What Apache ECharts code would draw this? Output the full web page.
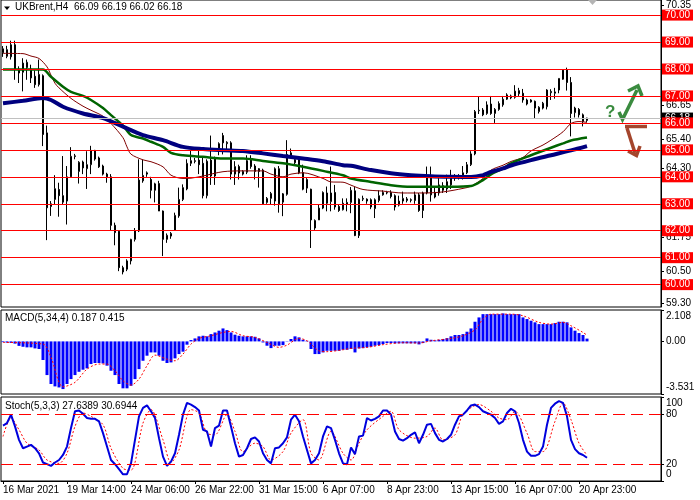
<!DOCTYPE html>
<html><head><meta charset="utf-8">
<script src="https://cdn.jsdelivr.net/npm/echarts@6/dist/echarts.min.js"></script>
<style>html,body{margin:0;padding:0;background:#fff}#c{width:700px;height:500px}</style>
</head><body><div id="c"></div>
<script>
// ---- data ----
const tickLabels = ['16 Mar 2021','19 Mar 14:00','24 Mar 06:00','26 Mar 22:00','31 Mar 15:00','6 Apr 07:00','8 Apr 23:00','13 Apr 15:00','16 Apr 07:00','20 Apr 23:00'];
const opens = [68.6,68.47,68.45,68.9,68.0,67.88,68.05,68.0,67.73,67.42,
67.75,65.63,62.9,63.16,63.53,63.3,63.1,64.0,64.75,64.2,
64.55,64.3,64.45,64.98,64.7,64.4,64.1,64.0,62.2,61.98,
60.63,60.57,60.88,61.68,61.99,63.85,64.1,63.9,63.5,63.75,
62.73,61.68,61.8,62.02,62.55,63.16,63.55,64.5,64.57,64.62,
64.5,63.3,64.62,64.03,65.0,65.53,65.23,65.26,64.1,64.38,
64.2,64.17,64.67,64.4,64.3,64.25,63.05,63.2,63.1,64.3,
63.06,63.35,64.77,64.52,64.64,64.16,63.58,63.54,62.1,62.4,
62.84,63.4,63.08,63.42,62.9,62.78,62.98,63.05,63.48,61.82,
63.17,63.17,63.15,62.82,63.12,63.33,63.4,63.42,63.3,62.95,
63.1,63.12,63.15,63.12,63.33,62.75,63.4,63.95,63.42,63.4,
63.67,63.55,63.7,63.95,64.0,64.0,64.15,64.45,64.85,66.45,
66.48,66.35,66.7,66.35,66.5,66.67,66.88,67.0,66.95,67.08,
67.1,66.85,66.85,66.8,66.42,66.55,66.6,67.12,67.1,67.22,
67.62,67.96,67.5,66.38,66.5,66.3,66.09];
const closes = [68.75,68.72,68.9,68.0,67.85,68.22,68.25,67.67,67.42,67.8,
65.57,62.85,63.0,63.56,63.3,63.06,64.0,64.76,64.78,64.54,
64.33,64.45,64.98,64.66,64.37,64.1,64.0,62.2,61.93,60.63,
60.47,60.88,61.68,61.99,63.88,64.05,64.15,63.5,63.74,62.73,
61.68,61.83,61.9,62.57,63.16,63.6,64.5,64.6,64.6,64.45,
63.3,64.58,64.03,64.67,65.23,65.26,65.28,64.1,64.38,64.14,
64.1,64.6,64.38,64.2,64.2,63.0,63.2,63.38,64.3,63.0,
63.37,64.83,64.89,64.64,64.15,63.54,63.9,62.4,62.38,62.84,
63.42,63.02,63.4,62.88,62.75,63.02,63.05,63.5,61.82,63.17,
63.2,63.1,62.88,63.15,63.3,63.42,63.42,63.27,62.88,63.1,
63.2,63.18,63.13,63.33,62.75,63.4,64.0,63.33,63.25,63.7,
63.5,63.82,63.95,64.0,64.02,64.15,64.45,64.85,66.42,66.47,
66.3,66.67,66.35,66.5,66.72,66.88,67.04,66.93,67.18,67.2,
66.85,66.7,66.78,66.55,66.58,66.73,67.22,67.17,67.15,67.65,
67.96,67.5,66.35,66.55,66.3,66.05,66.18];
const lows = [68.45,68.4,68.35,67.6,67.48,67.17,67.6,67.48,67.3,67.35,
65.14,61.65,62.55,62.96,62.52,62.97,62.23,63.98,64.65,63.75,
64.1,63.55,64.1,64.6,64.33,64.05,63.78,62.0,61.46,60.5,
60.38,60.5,60.75,61.6,61.95,63.78,64.0,63.2,63.05,62.73,
61.06,61.55,61.7,62.0,62.48,63.1,63.5,64.4,64.5,64.1,
63.2,63.2,63.7,63.7,64.8,64.83,65.0,63.9,63.7,63.9,
64.05,64.1,64.3,63.9,63.6,62.97,63.0,62.97,62.93,62.67,
62.54,63.3,64.7,64.45,64.1,63.5,63.4,61.36,62.03,62.4,
62.8,62.72,62.72,62.78,62.7,62.75,62.72,62.65,61.8,61.73,
63.1,63.0,62.8,62.47,63.05,63.3,63.35,63.2,62.75,62.9,
63.0,63.05,63.05,63.0,62.7,62.47,63.35,63.08,63.2,63.3,
63.4,63.4,63.55,63.85,63.9,63.9,64.1,64.4,64.8,66.33,
66.25,66.3,66.3,66.0,66.45,66.6,66.85,66.88,66.9,67.0,
66.75,66.65,66.75,66.17,66.35,66.5,66.5,66.85,66.9,67.1,
67.6,67.2,65.5,66.2,66.2,65.87,66.02];
const highs = [68.85,68.86,69.05,69.05,68.1,68.4,68.35,68.16,67.95,68.35,
67.8,65.9,63.1,64.06,63.78,64.77,64.4,65.1,64.85,64.58,
64.6,64.95,65.15,65.0,64.75,64.45,64.15,64.1,62.3,62.0,
60.7,60.94,61.7,62.1,64.65,64.64,64.2,64.0,63.78,63.85,
62.75,61.9,61.95,62.67,63.6,63.72,64.65,65.0,64.7,65.0,
64.75,64.65,65.53,64.75,65.28,65.63,65.32,65.32,64.58,64.45,
64.25,64.8,64.8,64.47,64.32,64.3,63.25,63.44,64.35,64.4,
63.4,65.36,65.05,64.7,64.7,64.45,63.95,63.56,62.42,62.96,
63.46,63.64,64.38,63.7,62.96,63.2,63.2,63.62,63.62,63.2,
63.3,63.2,63.2,63.2,63.5,63.5,63.48,63.5,63.35,63.3,
63.45,63.25,63.2,63.45,63.4,63.45,64.38,64.38,63.65,63.95,
63.8,64.08,64.26,64.1,64.1,64.4,64.55,64.95,66.48,66.98,
66.55,66.8,67.0,66.55,66.8,67.0,67.1,67.05,67.4,67.3,
67.26,66.9,66.88,66.83,66.62,66.78,67.25,67.25,67.3,67.65,
68.0,68.05,67.7,66.6,66.55,66.35,66.19];
// moving averages read at sample bars: [bar index, value]
const maFast = [[0,68.58],[5,68.57],[7,68.48],[9,68.39],[11,68.08],[12,67.77],[13,67.47],[14,67.3],[17,66.91],[20,66.62],[22,66.47],[25,66.25],[27,65.98],[30,65.45],[31,65.11],[32,64.84],[35,64.63],[37,64.56],[40,64.37],[42,64.06],[45,63.94],[47,63.95],[50,64.03],[55,64.19],[60,64.22],[65,64.22],[67,64.1],[70,64.0],[72,64.1],[75,64.15],[80,63.94],[82,63.81],[85,63.8],[87,63.69],[90,63.53],[95,63.47],[100,63.4],[105,63.4],[110,63.44],[115,63.57],[117,63.65],[120,63.94],[122,64.25],[125,64.43],[127,64.57],[130,64.72],[132,64.96],[135,65.18],[137,65.36],[140,65.67],[142,65.98],[144,66.05],[146,66.02]];
const maMid = [[0,67.98],[5,67.98],[10,67.98],[12,67.71],[15,67.34],[17,67.15],[20,67.0],[22,66.85],[25,66.55],[27,66.29],[30,65.9],[32,65.55],[35,65.42],[37,65.3],[40,65.11],[42,64.89],[45,64.8],[50,64.74],[55,64.68],[60,64.68],[65,64.59],[70,64.5],[75,64.37],[80,64.22],[85,64.06],[87,63.94],[92,63.81],[97,63.69],[102,63.63],[107,63.63],[112,63.63],[117,63.66],[120,63.88],[122,64.09],[125,64.31],[127,64.5],[132,64.8],[137,65.08],[140,65.24],[142,65.35],[146,65.46]];
const maSlow = [[0,66.73],[5,66.82],[10,66.92],[12,66.85],[15,66.6],[20,66.35],[25,66.18],[30,65.86],[35,65.55],[40,65.36],[45,65.11],[50,65.03],[55,64.99],[60,64.96],[65,64.87],[70,64.77],[75,64.68],[80,64.58],[85,64.43],[87,64.41],[92,64.25],[97,64.13],[102,64.06],[107,64.02],[112,64.0],[117,63.99],[120,64.06],[122,64.18],[125,64.31],[127,64.42],[132,64.62],[137,64.8],[142,64.98],[146,65.14]];
const levels = [60,61,62,63,64,65,66,67,68,69,70];
const bidPrice = 66.18;
const priceTicks = [59.30,60.50,61.75,64.30,65.40,66.65,67.90,70.35];
const macdHist = [-0.05,-0.08,-0.1,-0.15,-0.3,-0.36,-0.4,-0.4,-0.47,-0.51,
-1.25,-2.26,-2.86,-3.02,-3.09,-3.2,-2.86,-2.53,-2.26,-2.04,
-1.9,-1.81,-1.52,-1.45,-1.45,-1.48,-1.63,-1.97,-2.26,-2.86,
-3.15,-3.15,-2.98,-2.53,-1.86,-1.3,-0.96,-0.74,-0.74,-0.96,
-1.3,-1.45,-1.41,-1.14,-0.85,-0.69,-0.22,0.09,0.2,0.34,
0.38,0.34,0.49,0.6,0.72,0.87,0.76,0.6,0.45,0.38,
0.34,0.34,0.34,0.31,0.2,-0.07,-0.29,-0.45,-0.29,-0.29,
-0.25,-0.02,0.16,0.34,0.27,0.11,0.04,-0.51,-0.85,-0.85,
-0.74,-0.63,-0.63,-0.63,-0.63,-0.56,-0.56,-0.51,-0.74,-0.47,
-0.45,-0.4,-0.36,-0.29,-0.25,-0.18,-0.11,-0.11,-0.13,-0.13,
-0.13,-0.13,-0.13,-0.13,-0.2,-0.11,0.2,0.11,0.07,0.11,
0.16,0.22,0.34,0.43,0.43,0.49,0.65,0.87,1.32,1.61,
1.83,1.83,1.83,1.83,1.83,1.88,1.83,1.83,1.83,1.83,
1.61,1.5,1.39,1.28,1.16,1.16,1.16,1.16,1.23,1.32,
1.32,1.28,0.94,0.72,0.56,0.43,0.187];
const macdSignal = [[0,-0.07],[10,-0.18],[12,-1.07],[15,-3.05],[18,-2.75],[21,-1.86],[24,-1.52],[26,-1.52],[28,-1.97],[30,-2.64],[32,-2.93],[34,-2.53],[36,-1.63],[38,-0.92],[41,-1.19],[43,-1.3],[45,-0.85],[47,-0.18],[49,0.2],[52,0.38],[55,0.6],[57,0.67],[60,0.38],[63,0.27],[66,-0.07],[69,-0.4],[71,-0.25],[74,0.2],[76,0.04],[79,-0.63],[81,-0.69],[85,-0.56],[87,-0.47],[91,-0.4],[95,-0.22],[100,-0.09],[104,-0.11],[107,0.04],[112,0.2],[115,0.38],[118,0.78],[120,1.5],[122,1.83],[127,1.83],[130,1.72],[134,1.28],[137,1.16],[140,1.28],[142,1.05],[145,0.6],[146,0.415]];
const macdTicks = [-3.531,0,2.108];
const stochMain = [66,69,79,65,49,39,41,43,39,33,
22,20,18,22,25,31,41,63,83,84,
80,75,74,74,71,57,41,25,20,14,
8,8,21,49,77,87,90,83,75,51,
29,18,23,33,55,79,93,91,88,84,
61,59,41,63,66,84,84,65,45,29,
31,39,50,52,47,33,25,21,39,40,
45,52,73,79,71,53,37,21,25,33,
53,65,63,49,33,21,20,40,32,53,
54,75,72,74,77,84,84,79,59,50,
48,51,55,58,45,55,67,68,57,49,
47,50,55,67,77,79,84,90,91,88,
83,81,79,75,68,71,81,86,83,69,
49,35,30,30,32,41,67,87,92,95,
93,77,49,38,33,31,27.64];
const stochSignal = [[0,53],[2,75],[4,61],[6,45],[9,37],[11,25],[14,21],[16,33],[18,65],[20,81],[22,77],[25,67],[27,39],[30,15],[32,13],[35,69],[37,85],[40,49],[42,22],[44,37],[47,85],[49,81],[51,57],[53,55],[56,79],[58,59],[60,35],[63,45],[65,41],[67,25],[70,35],[72,57],[75,73],[77,33],[79,25],[82,59],[85,33],[87,25],[89,45],[91,61],[95,77],[97,83],[99,61],[103,51],[106,53],[108,63],[110,49],[113,55],[115,79],[119,91],[122,83],[124,75],[126,73],[128,83],[131,57],[133,35],[135,35],[138,71],[140,93],[142,73],[144,45],[146,30.69]];
const stochLevels = [20,80];
const stochTicks = [0,20,80,100];

// ---- chart ----
const FONT = "'Liberation Sans', Arial, sans-serif";
const barCount = opens.length;
const slots = 165;
const cats = Array.from({length: slots}, (_, i) => String(i));
const candles = opens.map((o, i) => [o, closes[i], lows[i], highs[i]]);
const showTick = (idx) => idx % 16 === 0 && idx < barCount;

const chart = echarts.init(document.getElementById('c'), null, {renderer: 'canvas'});
const baseX = (gi) => ({
  type: 'category', gridIndex: gi, data: cats, boundaryGap: true,
  axisLine: {show: false}, axisTick: {show: false}, axisLabel: {show: false}, splitLine: {show: false}
});
const lbl = {color: '#000', fontSize: 10, lineHeight: 10, fontFamily: FONT, margin: 5, hideOverlap: false, showMinLabel: true, showMaxLabel: true};
const richT = (pad) => ({padding: [pad, 0, 0, 0], fontSize: 10, lineHeight: 10, fontFamily: FONT, color: '#000'});
const richB = (pad) => ({padding: [0, 0, pad, 0], fontSize: 10, lineHeight: 10, fontFamily: FONT, color: '#000'});
chart.setOption({
  animation: false,
  backgroundColor: '#fff',
  title: [
    {text: 'UKBrent,H4  66.09 66.19 66.02 66.18', left: 15, top: 2, padding: 0,
     textStyle: {fontSize: 10, fontWeight: 'normal', color: '#000', fontFamily: FONT}},
    {text: 'MACD(5,34,4) 0.187 0.415', left: 5, top: 313, padding: 0,
     textStyle: {fontSize: 10, fontWeight: 'normal', color: '#000', fontFamily: FONT}},
    {text: 'Stoch(5,3,3) 27.6389 30.6944', left: 5, top: 401, padding: 0,
     textStyle: {fontSize: 10, fontWeight: 'normal', color: '#000', fontFamily: FONT}}
  ],
  grid: [
    {left: 1, width: 660, top: 0, height: 307, show: true, borderColor: '#000', borderWidth: 1},
    {left: 1, width: 660, top: 310, height: 84, show: true, borderColor: '#000', borderWidth: 1},
    {left: 1, width: 660, top: 397, height: 84, show: true, borderColor: '#000', borderWidth: 1}
  ],
  xAxis: [
    baseX(0), baseX(1),
    Object.assign(baseX(2), {
      axisLine: {show: true, lineStyle: {color: '#000'}},
      axisTick: {show: true, interval: (i) => showTick(i), alignWithLabel: true, length: 3, lineStyle: {color: '#000'}},
      axisLabel: {show: true, interval: (i) => showTick(i), align: 'left', color: '#000', fontSize: 10, fontFamily: FONT, margin: 4,
        formatter: (v, i) => showTick(i) ? tickLabels[i / 16] : ''}
    })
  ],
  yAxis: [
    {type: 'value', gridIndex: 0, position: 'right', min: 59.17, max: 70.56,
     axisLine: {show: true, lineStyle: {color: '#000'}},
     axisTick: {show: true, length: 3, customValues: priceTicks, lineStyle: {color: '#000'}},
     axisLabel: Object.assign({}, lbl, {customValues: priceTicks, formatter: (v) => v.toFixed(2)}),
     splitLine: {show: false}},
    {type: 'value', gridIndex: 1, position: 'right', min: -3.531, max: 2.108,
     axisLine: {show: true, lineStyle: {color: '#000'}},
     axisTick: {show: true, length: 3, customValues: macdTicks, lineStyle: {color: '#000'}},
     axisLabel: Object.assign({}, lbl, {customValues: macdTicks,
       formatter: (v) => v === 0 ? '0.00' : (v > 0 ? '{t|' + v.toFixed(3) + '}' : '{b|' + v.toFixed(3) + '}'),
       rich: {t: richT(13), b: richB(13)}}),
     splitLine: {show: false}},
    {type: 'value', gridIndex: 2, position: 'right', min: 0, max: 100,
     axisLine: {show: true, lineStyle: {color: '#000'}},
     axisTick: {show: true, length: 3, customValues: stochTicks, lineStyle: {color: '#000'}},
     axisLabel: Object.assign({}, lbl, {customValues: stochTicks,
       formatter: (v) => v === 100 ? '{t|100}' : (v === 0 ? '{b|0}' : String(v)),
       rich: {t: richT(12), b: richB(13)}}),
     splitLine: {show: false}}
  ],
  series: [
    {type: 'candlestick', xAxisIndex: 0, yAxisIndex: 0, data: candles, barWidth: 2,
     itemStyle: {color: '#ffffff', color0: '#000000', borderColor: '#000000', borderColor0: '#000000', borderWidth: 1},
     markLine: {silent: true, symbol: ['none', 'none'], animation: false,
       label: {position: 'end', distance: 1, formatter: (p) => Number(p.value).toFixed(2),
         color: '#fff', backgroundColor: '#ff0000', fontSize: 10, fontFamily: FONT, padding: [1, 3, 0, 3], lineHeight: 10},
       lineStyle: {color: '#ff0000', width: 1, type: 'solid'},
       data: [{yAxis: bidPrice, lineStyle: {color: '#c0c0c0', width: 1, type: 'solid'}, label: {backgroundColor: '#000'}}]
         .concat(levels.map((v) => ({yAxis: v})))}},
    {type: 'line', xAxisIndex: 0, yAxisIndex: 0, data: maFast, symbol: 'none', smooth: 0.3,
     lineStyle: {color: '#800000', width: 1}},
    {type: 'line', xAxisIndex: 0, yAxisIndex: 0, data: maMid, symbol: 'none', smooth: 0.3,
     lineStyle: {color: '#006400', width: 2.5}},
    {type: 'line', xAxisIndex: 0, yAxisIndex: 0, data: maSlow, symbol: 'none', smooth: 0.3,
     lineStyle: {color: '#00007f', width: 4}},
    {type: 'bar', xAxisIndex: 1, yAxisIndex: 1, data: macdHist, barWidth: 3, itemStyle: {color: '#0000ff'}},
    {type: 'line', xAxisIndex: 1, yAxisIndex: 1, data: macdSignal, symbol: 'none', smooth: 0.3,
     lineStyle: {color: '#ff0000', width: 1, type: [2, 2]}},
    {type: 'line', xAxisIndex: 2, yAxisIndex: 2, data: stochSignal, symbol: 'none', smooth: 0.3,
     lineStyle: {color: '#ff0000', width: 1, type: [2, 2]},
     markLine: {silent: true, symbol: ['none', 'none'], label: {show: false},
       lineStyle: {color: '#ff0000', width: 1, type: [12, 6]},
       data: stochLevels.map((v) => ({yAxis: v}))}},
    {type: 'line', xAxisIndex: 2, yAxisIndex: 2, data: stochMain, symbol: 'none',
     lineStyle: {color: '#0000dd', width: 2}}
  ],
  graphic: [
    {type: 'polygon', shape: {points: [[4, 6.5], [10, 6.5], [7, 10]]}, style: {fill: '#000'}},
    {type: 'polygon', shape: {points: [[588, 0], [597, 0], [592.5, 5]]}, style: {fill: '#b4b4b4'}},
    {type: 'text', left: 605, top: 104, style: {text: '?', fill: '#3a8b3f', font: 'bold 17px ' + FONT}},
    {type: 'polyline', shape: {points: [[619, 112], [622.5, 119.5], [637, 90]]},
     style: {stroke: '#3a8b3f', lineWidth: 3.5, fill: null, lineJoin: 'miter'}},
    {type: 'polyline', shape: {points: [[628, 91], [638, 86], [642, 96]]},
     style: {stroke: '#3a8b3f', lineWidth: 3.5, fill: null}},
    {type: 'polyline', shape: {points: [[625, 126.5], [647, 126.5]]},
     style: {stroke: '#a4452c', lineWidth: 3.5, fill: null}},
    {type: 'polyline', shape: {points: [[627, 128], [635, 153]]},
     style: {stroke: '#a4452c', lineWidth: 3.5, fill: null}},
    {type: 'polyline', shape: {points: [[628, 151], [636.5, 155.5], [640, 146]]},
     style: {stroke: '#a4452c', lineWidth: 3.5, fill: null}}
  ]
});
</script></body></html>
